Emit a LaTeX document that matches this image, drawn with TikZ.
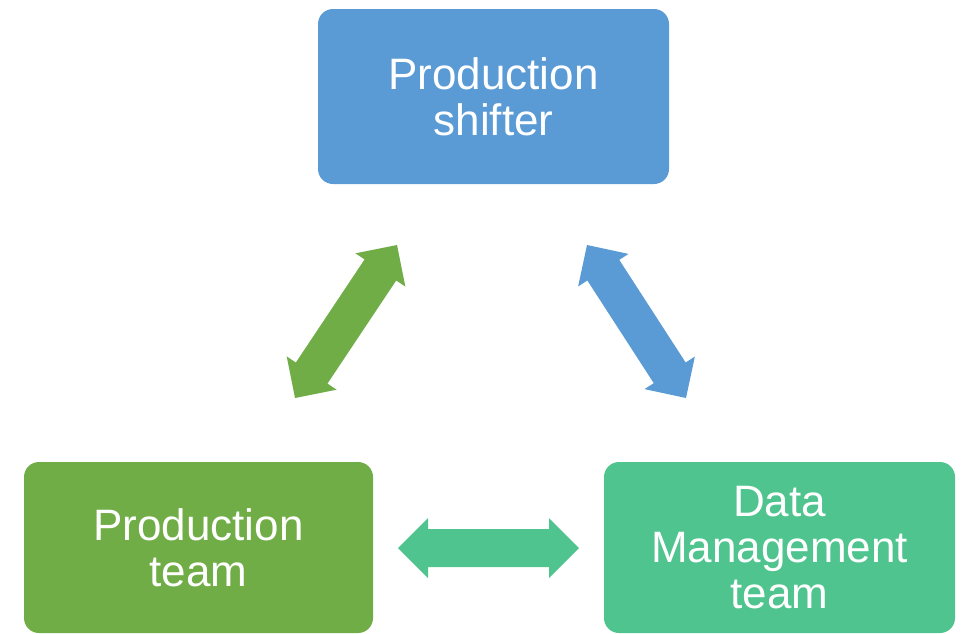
\documentclass[tikz,border=0pt]{standalone}
\usepackage{fontspec}
\setmainfont{Liberation Sans}
\usetikzlibrary{calc}

\definecolor{boxblue}{RGB}{91,155,213}
\definecolor{boxgreen}{RGB}{112,173,71}
\definecolor{boxteal}{RGB}{80,196,142}

% Block arrow with a head at both ends, from point #2 to point #3.
\newcommand\twowayarrow[3]{%
  \fill[#1]
    (#2)
    -- ($(#2)!30pt!(#3)!30pt!90:(#3)$)
    -- ($(#2)!30pt!(#3)!19pt!90:(#3)$)
    -- ($(#3)!30pt!(#2)!19pt!-90:(#2)$)
    -- ($(#3)!30pt!(#2)!30pt!-90:(#2)$)
    -- (#3)
    -- ($(#3)!30pt!(#2)!30pt!90:(#2)$)
    -- ($(#3)!30pt!(#2)!19pt!90:(#2)$)
    -- ($(#2)!30pt!(#3)!19pt!-90:(#3)$)
    -- ($(#2)!30pt!(#3)!30pt!-90:(#3)$)
    -- cycle;}

\begin{document}
\begin{tikzpicture}[x=1pt,y=-1pt,
  rolebox/.style={rectangle, rounded corners=15pt, draw=none,
    text=white, align=center, inner sep=0pt,
    font=\fontsize{44}{46}\selectfont}]
  \useasboundingbox (0,0) rectangle (963,633);

  % role boxes
  \node[rolebox, fill=boxblue, minimum width=351pt, minimum height=175pt]
    (shifter) at (493.5,96.5) {Production\\shifter};
  \node[rolebox, fill=boxgreen, minimum width=349pt, minimum height=171pt]
    (prod) at (198.5,547.5) {Production\\team};
  \node[rolebox, fill=boxteal, minimum width=351pt, minimum height=171pt]
    (dm) at (779.5,547.5) {Data\\Management\\team};

  % arrow end points between the boxes
  \coordinate (gA) at (295,398);
  \coordinate (gB) at (397,245);
  \coordinate (bA) at (587,245);
  \coordinate (bB) at (686,398);
  \coordinate (tA) at (398,548);
  \coordinate (tB) at (579,548);

  \twowayarrow{boxgreen}{gA}{gB}
  \twowayarrow{boxblue}{bA}{bB}
  \twowayarrow{boxteal}{tA}{tB}
\end{tikzpicture}
\end{document}
